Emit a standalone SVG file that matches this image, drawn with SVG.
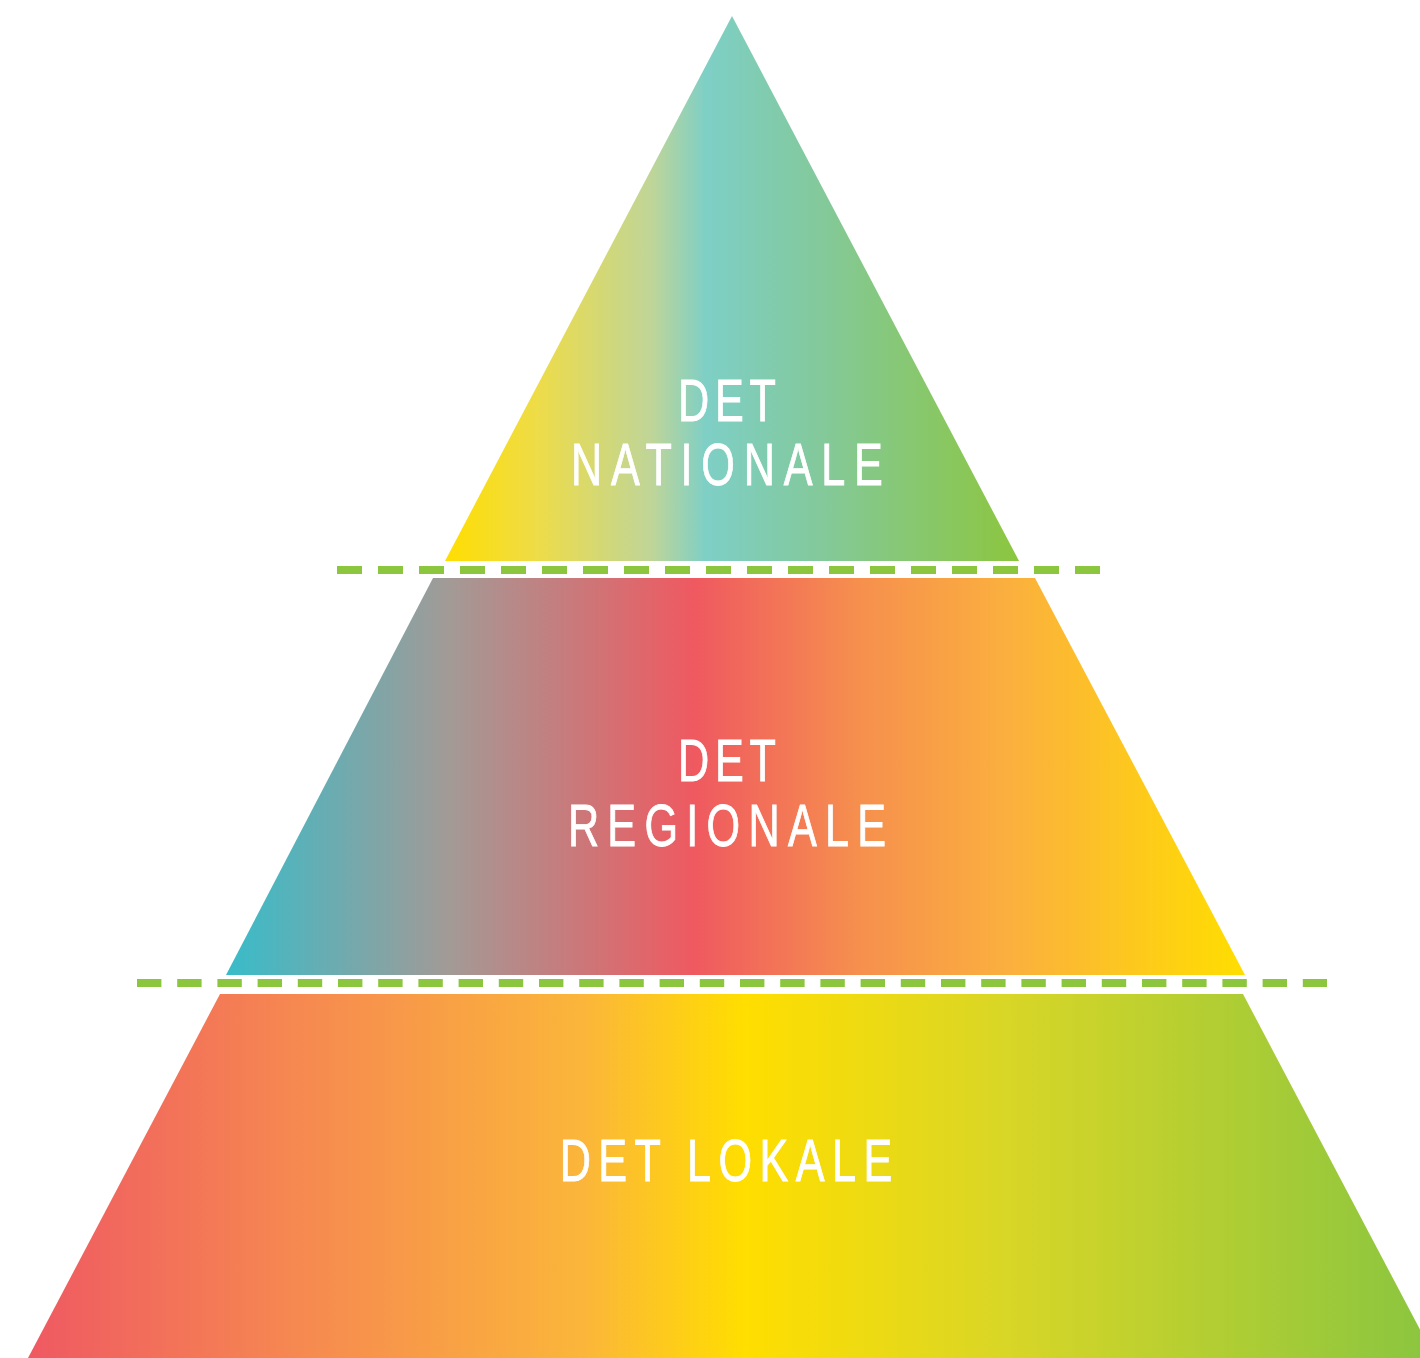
<svg xmlns="http://www.w3.org/2000/svg" width="1420" height="1358" viewBox="0 0 1420 1358">
<defs>
<linearGradient id="gTop" gradientUnits="userSpaceOnUse" x1="445" y1="0" x2="1019" y2="0">
<stop offset="0" stop-color="#FFDE00"/>
<stop offset="0.16" stop-color="#EEDC48"/>
<stop offset="0.36" stop-color="#BFD598"/>
<stop offset="0.455" stop-color="#7ECFC6"/>
<stop offset="0.65" stop-color="#83C99C"/>
<stop offset="1" stop-color="#8CC63F"/>
</linearGradient>
<linearGradient id="gMid" gradientUnits="userSpaceOnUse" x1="226" y1="0" x2="1245" y2="0">
<stop offset="0" stop-color="#38BCC9"/>
<stop offset="0.22" stop-color="#A39A96"/>
<stop offset="0.46" stop-color="#EF5960"/>
<stop offset="0.62" stop-color="#F68F4E"/>
<stop offset="0.77" stop-color="#FBB03E"/>
<stop offset="1" stop-color="#FFDE00"/>
</linearGradient>
<linearGradient id="gBot" gradientUnits="userSpaceOnUse" x1="28" y1="0" x2="1420" y2="0">
<stop offset="0" stop-color="#EF5962"/>
<stop offset="0.2" stop-color="#F68A50"/>
<stop offset="0.4" stop-color="#FBB63A"/>
<stop offset="0.515" stop-color="#FFDE00"/>
<stop offset="0.7" stop-color="#D9D626"/>
<stop offset="1" stop-color="#8CC63F"/>
</linearGradient>
<style>
.lbl{fill:#ffffff;stroke:#ffffff;stroke-width:0.9;font-family:"Liberation Sans","DejaVu Sans",sans-serif;font-size:60px;text-anchor:middle}
.dash{stroke:#8CC63F;stroke-width:8;fill:none}
</style>
</defs>
<g id="tier-national">
<polygon points="732,16 1019,561 445,561" fill="url(#gTop)"/>
<g transform="translate(727,0) scale(0.72,1)">
<text class="lbl" x="0" y="421" textLength="136" lengthAdjust="spacing">DET</text>
<text class="lbl" x="0" y="485" textLength="433" lengthAdjust="spacing">NATIONALE</text>
</g>
</g>
<g id="tier-regional">
<polygon points="433,578 1035,578 1245,975 226,975" fill="url(#gMid)"/>
<g transform="translate(727,0) scale(0.72,1)">
<text class="lbl" x="0" y="781" textLength="136" lengthAdjust="spacing">DET</text>
<text class="lbl" x="0" y="846" textLength="442" lengthAdjust="spacing">REGIONALE</text>
</g>
</g>
<g id="tier-local">
<polygon points="220,994 1243,994 1435,1358 28,1358" fill="url(#gBot)"/>
<g transform="translate(726,0) scale(0.72,1)">
<text class="lbl" x="0" y="1181" textLength="462" lengthAdjust="spacing">DET LOKALE</text>
</g>
</g>
<g id="connectors">
<line class="dash" x1="337" y1="570" x2="1100" y2="570" stroke-dasharray="25 16"/>
<line class="dash" x1="137" y1="983" x2="1327" y2="983" stroke-dasharray="24.4 15.8"/>
</g>
</svg>
